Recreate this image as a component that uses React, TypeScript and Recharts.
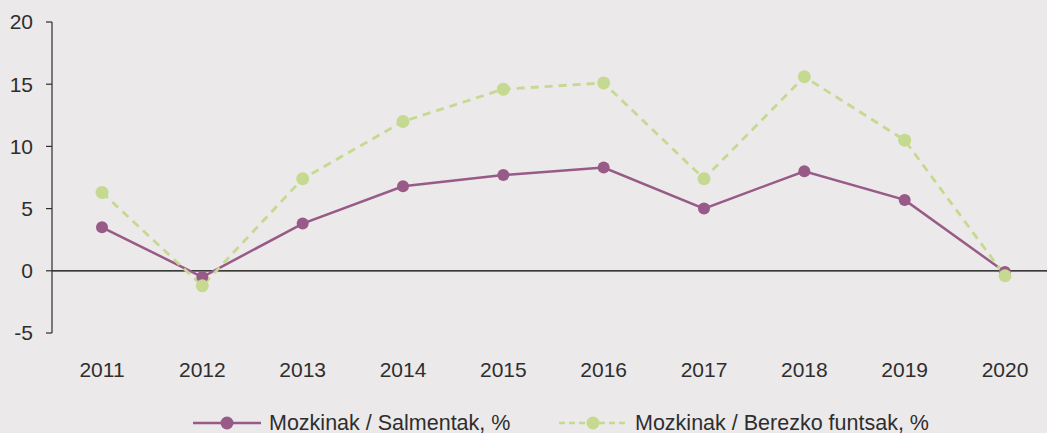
import React from "react";
import { LineChart, Line, XAxis, YAxis, ReferenceLine, Legend } from "recharts";

const years = ["2011", "2012", "2013", "2014", "2015", "2016", "2017", "2018", "2019", "2020"];
const salesRatio = [3.5, -0.5, 3.8, 6.8, 7.7, 8.3, 5.0, 8.0, 5.7, -0.1];
const ownFundsRatio = [6.3, -1.2, 7.4, 12.0, 14.6, 15.1, 7.4, 15.6, 10.5, -0.4];
const yTicks = [-5, 0, 5, 10, 15, 20];

const SALES_NAME = "Mozkinak / Salmentak, %";
const FUNDS_NAME = "Mozkinak / Berezko funtsak, %";

const PURPLE = "#985a86";
const GREEN = "#c6d990";
const TEXT = "#2e2e2e";
const FONT = "'Liberation Sans', Arial, sans-serif";

const data = years.map((y, i) => ({
  year: y,
  sales: salesRatio[i],
  funds: ownFundsRatio[i],
}));

const LegendItem = ({ left, color, dashed, label }: any) => (
  <div style={{ position: "absolute", left, top: 0, height: 40, display: "flex", alignItems: "center", paddingTop: 20, boxSizing: "border-box" }}>
    <svg width={68} height={14} style={{ display: "block" }}>
      <line x1={0} y1={7} x2={68} y2={7} stroke={color} strokeWidth={2.5} strokeDasharray={dashed ? "6 4" : undefined} />
      <circle cx={34} cy={7} r={6.5} fill={color} />
    </svg>
    <span style={{ marginLeft: 8, fontSize: 21.5, color: TEXT, fontFamily: FONT, lineHeight: "20px", whiteSpace: "nowrap" }}>{label}</span>
  </div>
);

const ChartLegend = () => (
  <div style={{ position: "relative", width: 1047, height: 40 }}>
    <LegendItem left={193} color={PURPLE} label={SALES_NAME} />
    <LegendItem left={559} color={GREEN} dashed label={FUNDS_NAME} />
  </div>
);

export default function App() {
  return (
    <div style={{ position: "absolute", left: 0, top: 0, width: 1047, height: 433, background: "#ebe9ea", fontFamily: FONT }}>
      <LineChart width={1047} height={433} data={data} margin={{ top: 22, right: 0, left: 0, bottom: 0 }}>
        <XAxis
          dataKey="year"
          axisLine={false}
          tickLine={false}
          tickSize={0}
          tickMargin={29}
          height={60}
          padding={{ left: 50, right: 42 }}
          tick={{ fontSize: 21, fill: TEXT, fontFamily: FONT }}
          interval={0}
        />
        <YAxis
          width={52}
          domain={[-5, 20]}
          ticks={yTicks}
          interval={0}
          axisLine={{ stroke: TEXT, strokeWidth: 1.2 }}
          tickLine={{ stroke: TEXT, strokeWidth: 1.2 }}
          tickSize={6}
          tickMargin={13}
          tick={{ fontSize: 21, fill: TEXT, fontFamily: FONT }}
        />
        <ReferenceLine y={0} stroke="#000" strokeWidth={1.2} />
        <Legend verticalAlign="bottom" align="left" height={40} wrapperStyle={{ left: 0, width: 1047 }} content={() => <ChartLegend />} />
        <Line
          type="linear"
          dataKey="sales"
          name={SALES_NAME}
          stroke={PURPLE}
          strokeWidth={2.5}
          dot={{ r: 6, fill: PURPLE, stroke: PURPLE, strokeWidth: 0 }}
          activeDot={false}
          isAnimationActive={false}
        />
        <Line
          type="linear"
          dataKey="funds"
          name={FUNDS_NAME}
          stroke={GREEN}
          strokeWidth={2.8}
          strokeDasharray="8 6"
          dot={{ r: 6.5, fill: GREEN, stroke: GREEN, strokeWidth: 0 }}
          activeDot={false}
          isAnimationActive={false}
        />
      </LineChart>
    </div>
  );
}
